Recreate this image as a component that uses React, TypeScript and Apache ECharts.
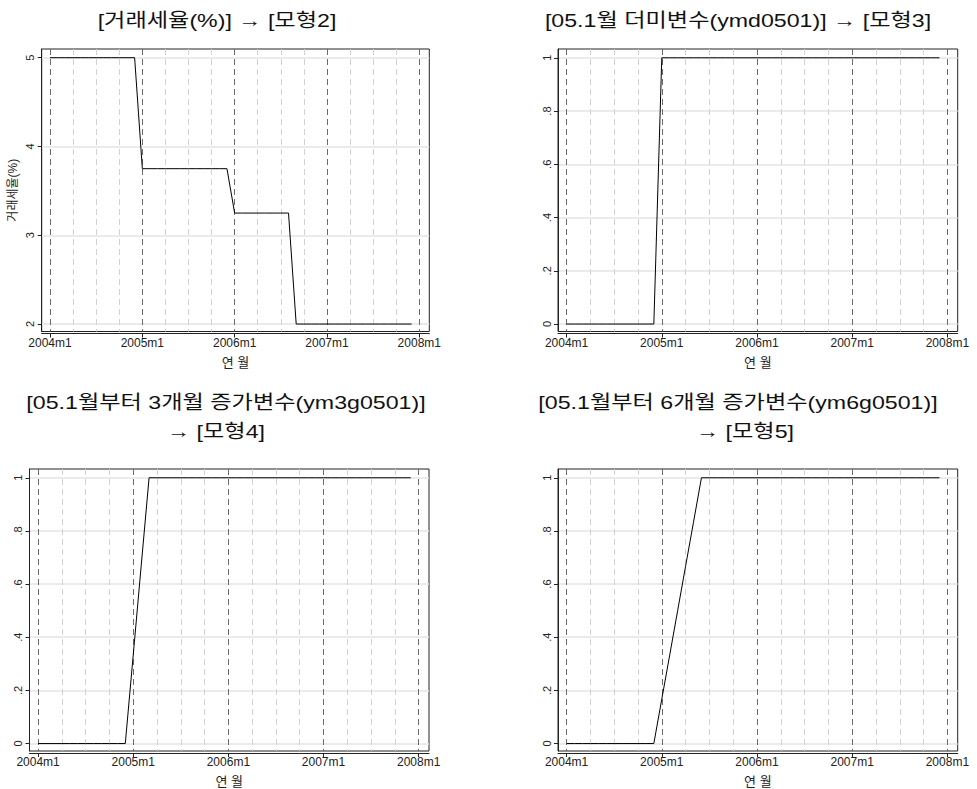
import React, { useEffect, useRef } from "react";
import * as echarts from "echarts";

// month index: 0 = 2004m1 ... 47 = 2007m12
const monthIndex = [
  0, 1, 2, 3, 4, 5, 6, 7, 8, 9, 10, 11,
  12, 13, 14, 15, 16, 17, 18, 19, 20, 21, 22, 23,
  24, 25, 26, 27, 28, 29, 30, 31, 32, 33, 34, 35,
  36, 37, 38, 39, 40, 41, 42, 43, 44, 45, 46, 47,
];

const taxRate = [
  5, 5, 5, 5, 5, 5, 5, 5, 5, 5, 5, 5,
  3.75, 3.75, 3.75, 3.75, 3.75, 3.75, 3.75, 3.75, 3.75, 3.75, 3.75, 3.75,
  3.25, 3.25, 3.25, 3.25, 3.25, 3.25, 3.25, 3.25, 2, 2, 2, 2,
  2, 2, 2, 2, 2, 2, 2, 2, 2, 2, 2, 2,
];

const ymd0501 = [
  0, 0, 0, 0, 0, 0, 0, 0, 0, 0, 0, 0,
  1, 1, 1, 1, 1, 1, 1, 1, 1, 1, 1, 1,
  1, 1, 1, 1, 1, 1, 1, 1, 1, 1, 1, 1,
  1, 1, 1, 1, 1, 1, 1, 1, 1, 1, 1, 1,
];

const ym3g0501 = [
  0, 0, 0, 0, 0, 0, 0, 0, 0, 0, 0, 0,
  0.333, 0.667, 1, 1, 1, 1, 1, 1, 1, 1, 1, 1,
  1, 1, 1, 1, 1, 1, 1, 1, 1, 1, 1, 1,
  1, 1, 1, 1, 1, 1, 1, 1, 1, 1, 1, 1,
];

const ym6g0501 = [
  0, 0, 0, 0, 0, 0, 0, 0, 0, 0, 0, 0,
  0.167, 0.333, 0.5, 0.667, 0.833, 1, 1, 1, 1, 1, 1, 1,
  1, 1, 1, 1, 1, 1, 1, 1, 1, 1, 1, 1,
  1, 1, 1, 1, 1, 1, 1, 1, 1, 1, 1, 1,
];

const xTickValues = [0, 12, 24, 36, 48];
const xTickLabels = ["2004m1", "2005m1", "2006m1", "2007m1", "2008m1"];
const xQuarterValues = [3, 6, 9, 15, 18, 21, 27, 30, 33, 39, 42, 45];

const taxTicks = [2, 3, 4, 5];
const taxTickLabels = ["2", "3", "4", "5"];
const shareTicks = [0, 0.2, 0.4, 0.6, 0.8, 1];
const shareTickLabels = ["0", ".2", ".4", ".6", ".8", "1"];

const titles = [
  ["[거래세율(%)] → [모형2]"],
  ["[05.1월 더미변수(ymd0501)] → [모형3]"],
  ["[05.1월부터 3개월 증가변수(ym3g0501)]", "→ [모형4]"],
  ["[05.1월부터 6개월 증가변수(ym6g0501)]", "→ [모형5]"],
];
const xAxisName = "연 월";
const yAxisName = "거래세율(%)";

const FONT = "'Liberation Sans', 'Noto Sans CJK KR', sans-serif";

export default function App() {
  const ref = useRef<HTMLDivElement>(null);

  useEffect(() => {
    if (!ref.current) return;
    const chart = echarts.init(ref.current, undefined, { renderer: "svg" });

    const panels = [
      { grid: { left: 41.7, top: 49, width: 387.6, height: 282.5 }, values: taxRate, ticks: taxTicks, labels: taxTickLabels, ymin: 1.916, ymax: 5.098, yName: yAxisName },
      { grid: { left: 558, top: 49, width: 399.7, height: 282.5 }, values: ymd0501, ticks: shareTicks, labels: shareTickLabels, ymin: -0.028, ymax: 1.033, yName: "" },
      { grid: { left: 29.5, top: 469, width: 399.5, height: 282 }, values: ym3g0501, ticks: shareTicks, labels: shareTickLabels, ymin: -0.028, ymax: 1.033, yName: "" },
      { grid: { left: 558, top: 469, width: 399.7, height: 282 }, values: ym6g0501, ticks: shareTicks, labels: shareTickLabels, ymin: -0.028, ymax: 1.033, yName: "" },
    ];

    const grid: any[] = [];
    const xAxis: any[] = [];
    const yAxis: any[] = [];
    const series: any[] = [];

    panels.forEach((p, i) => {
      grid.push({ ...p.grid, show: true, borderColor: "#222", borderWidth: 1, backgroundColor: "#fff" });
      xAxis.push({
        type: "value",
        gridIndex: i,
        min: -1.08,
        max: 49.3,
        position: "bottom",
        offset: 2,
        axisLine: { show: true, onZero: false, lineStyle: { color: "#222", width: 1 } },
        axisTick: { show: true, length: 4, customValues: xTickValues, lineStyle: { color: "#222" } },
        axisLabel: {
          customValues: xTickValues,
          formatter: (v: number) => xTickLabels[xTickValues.indexOf(Math.round(v))] ?? "",
          fontSize: 12,
          fontFamily: FONT,
          color: "#222",
          margin: 3,
        },
        splitLine: { show: true, lineStyle: { color: "#6a6a6a", type: [6, 4], width: 1 } },
        name: xAxisName,
        nameLocation: "middle",
        nameGap: 22,
        nameTextStyle: { fontSize: 13, fontFamily: FONT, color: "#222" },
      });
      xAxis.push({
        type: "value",
        gridIndex: i,
        min: -1.08,
        max: 49.3,
        position: "top",
        axisLine: { show: false },
        axisTick: { show: false, customValues: xQuarterValues },
        axisLabel: { show: false, customValues: xQuarterValues },
        splitLine: { show: true, lineStyle: { color: "#d2d2d2", type: [6, 4], width: 1 } },
      });
      yAxis.push({
        type: "value",
        gridIndex: i,
        min: p.ymin,
        max: p.ymax,
        axisLine: { show: true, onZero: false, lineStyle: { color: "#222", width: 1 } },
        axisTick: { show: true, length: 4, customValues: p.ticks, lineStyle: { color: "#222" } },
        axisLabel: {
          customValues: p.ticks,
          rotate: 90,
          formatter: (v: number) => {
            const k = p.ticks.findIndex((t) => Math.abs(t - v) < 1e-6);
            return k >= 0 ? p.labels[k] : "";
          },
          fontSize: 11,
          fontFamily: FONT,
          color: "#222",
          margin: 6,
        },
        splitLine: { show: true, lineStyle: { color: "#e4e4e4", width: 1.5 } },
        name: p.yName,
        nameLocation: "middle",
        nameGap: 23,
        nameTextStyle: { fontSize: 12, fontFamily: FONT, color: "#222" },
      });
      series.push({
        type: "line",
        xAxisIndex: i * 2,
        yAxisIndex: i,
        data: monthIndex.map((m, k) => [m, p.values[k]]),
        showSymbol: false,
        symbol: "none",
        lineStyle: { color: "#000", width: 1 },
        z: 10,
      });
    });

    const titleAnchors = [
      [{ x: 217, y: 20 }],
      [{ x: 738, y: 20 }],
      [{ x: 226, y: 402 }, { x: 216, y: 431 }],
      [{ x: 738, y: 402 }, { x: 745, y: 431 }],
    ];
    const graphic: any[] = [];
    titles.forEach((lines, i) => {
      lines.forEach((t, j) => {
        const a = titleAnchors[i][j];
        graphic.push({
          type: "text",
          x: a.x,
          y: a.y,
          scaleX: 1.22,
          style: {
            text: t,
            fontSize: 19,
            fontFamily: FONT,
            fill: "#111",
            align: "center",
            verticalAlign: "middle",
            textAlign: "center",
            textVerticalAlign: "middle",
          },
        });
      });
    });

    chart.setOption({
      animation: false,
      backgroundColor: "#fff",
      grid,
      xAxis,
      yAxis,
      series,
      graphic,
    });

    return () => chart.dispose();
  }, []);

  return (
    <div
      ref={ref}
      style={{ position: "absolute", left: 0, top: 0, width: 977, height: 789 }}
    />
  );
}
